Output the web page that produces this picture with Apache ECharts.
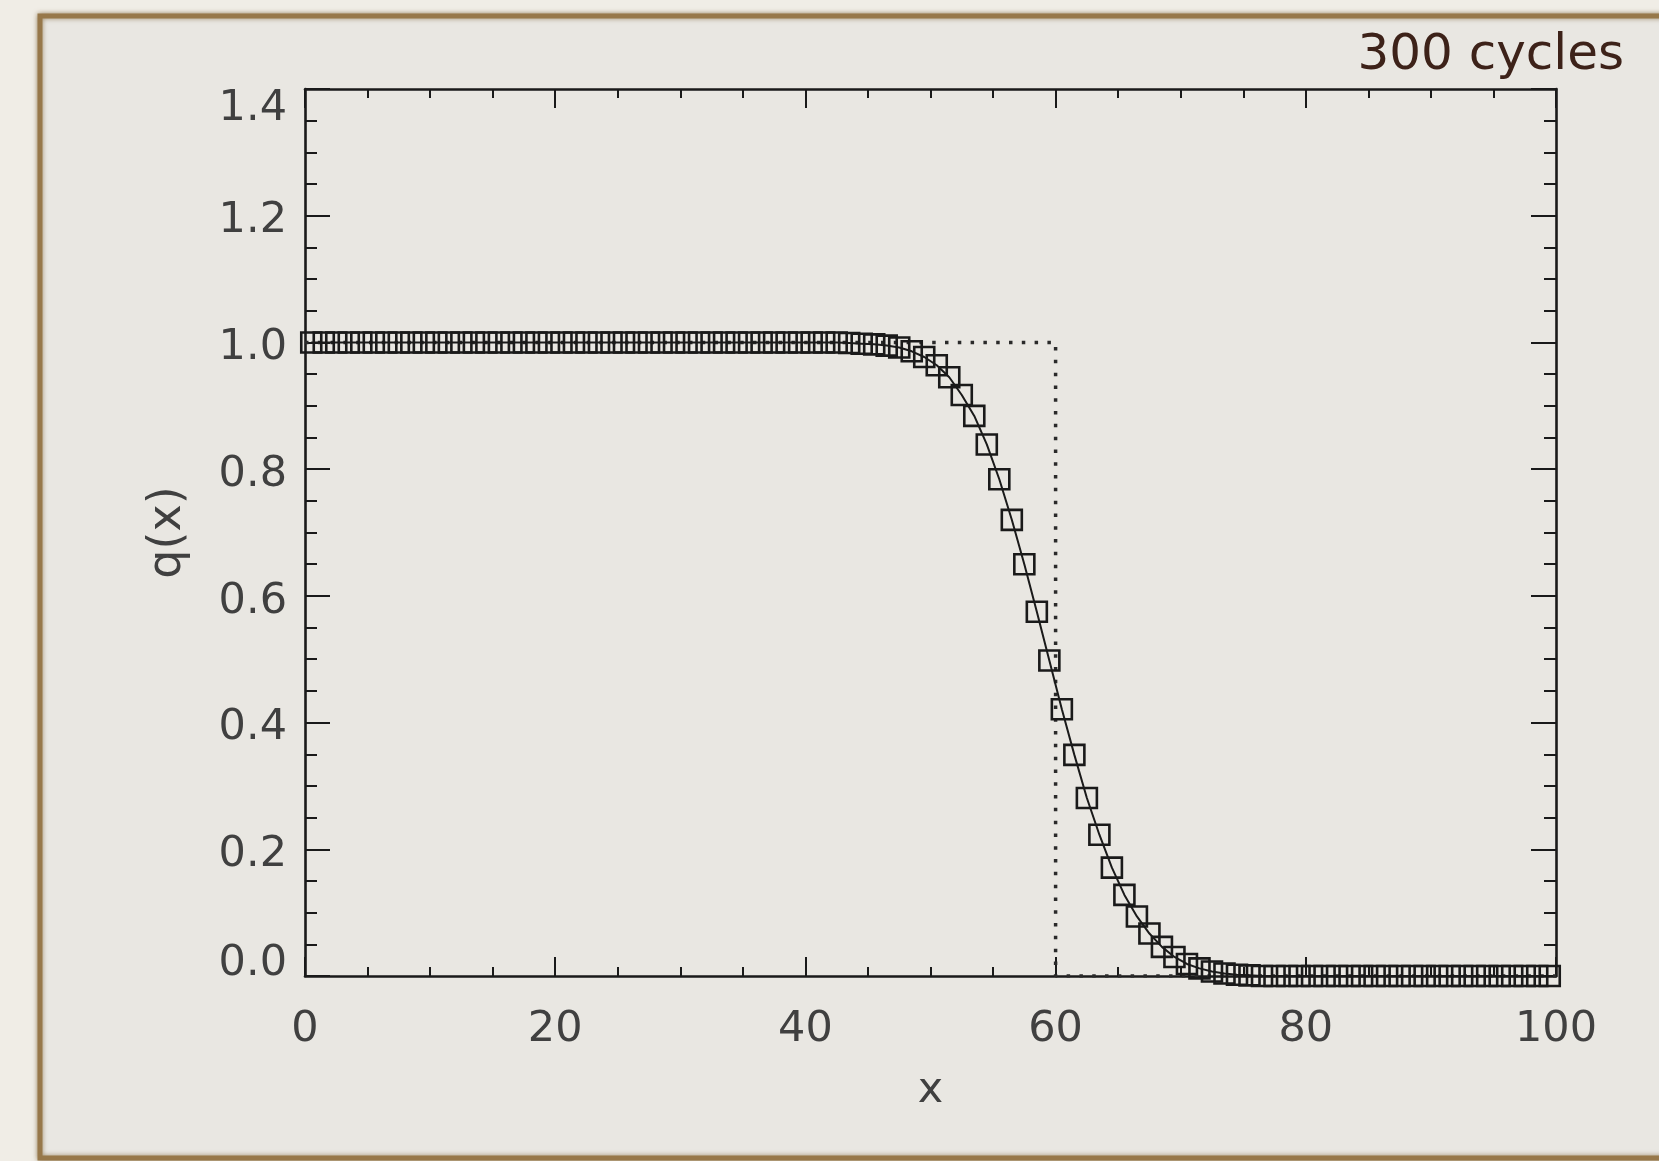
<!DOCTYPE html>
<html>
<head>
<meta charset="utf-8">
<script src="https://cdn.jsdelivr.net/npm/echarts@6/dist/echarts.min.js"></script>
<style>
  html, body { margin: 0; padding: 0; background: #f0ede6; }
  #chart { width: 1659px; height: 1161px; }
</style>
</head>
<body>
<div id="chart"></div>
<script>
// Cell centres of the 100-cell grid
const cellX = [
  0.5, 1.5, 2.5, 3.5, 4.5, 5.5, 6.5, 7.5, 8.5, 9.5,
  10.5, 11.5, 12.5, 13.5, 14.5, 15.5, 16.5, 17.5, 18.5, 19.5,
  20.5, 21.5, 22.5, 23.5, 24.5, 25.5, 26.5, 27.5, 28.5, 29.5,
  30.5, 31.5, 32.5, 33.5, 34.5, 35.5, 36.5, 37.5, 38.5, 39.5,
  40.5, 41.5, 42.5, 43.5, 44.5, 45.5, 46.5, 47.5, 48.5, 49.5,
  50.5, 51.5, 52.5, 53.5, 54.5, 55.5, 56.5, 57.5, 58.5, 59.5,
  60.5, 61.5, 62.5, 63.5, 64.5, 65.5, 66.5, 67.5, 68.5, 69.5,
  70.5, 71.5, 72.5, 73.5, 74.5, 75.5, 76.5, 77.5, 78.5, 79.5,
  80.5, 81.5, 82.5, 83.5, 84.5, 85.5, 86.5, 87.5, 88.5, 89.5,
  90.5, 91.5, 92.5, 93.5, 94.5, 95.5, 96.5, 97.5, 98.5, 99.5
];

// Numerical solution q(x) after 300 cycles
const qNumeric = [
  1, 1, 1, 1, 1, 1, 1, 1, 1, 1,
  1, 1, 1, 1, 1, 1, 1, 1, 1, 1,
  1, 1, 1, 1, 1, 1, 1, 1, 1, 1,
  1, 1, 1, 1, 1, 1, 1, 1, 1, 1,
  1, 1, 1, 0.999, 0.998, 0.997, 0.995, 0.992, 0.986, 0.977,
  0.964, 0.945, 0.917, 0.884, 0.839, 0.784, 0.720, 0.650, 0.575, 0.498,
  0.421, 0.349, 0.281, 0.223, 0.171, 0.128, 0.094, 0.067, 0.046, 0.030,
  0.019, 0.012, 0.007, 0.004, 0.002, 0.001, 0, 0, 0, 0,
  0, 0, 0, 0, 0, 0, 0, 0, 0, 0,
  0, 0, 0, 0, 0, 0, 0, 0, 0, 0
];

// Exact (step) solution
const exactX = [0, 60, 60, 100];
const exactQ = [1, 1, 0, 0];

// Axis ranges and tick steps
const xRange = [0, 100];
const xStep = 20;
const yRange = [0, 1.4];
const yStep = 0.2;

const annotation = '300 cycles';
const xName = 'x';
const yName = 'q(x)';

const ink = '#1a1a1a';
const labelColor = '#404040';
const labelFont = '"DejaVu Sans", Verdana, sans-serif';
const labelSize = 43;

const chart = echarts.init(document.getElementById('chart'), null, { renderer: 'canvas' });

// y labels: the end labels sit inside the frame, the others hang just below their tick
function yLabel(v) {
  const s = v.toFixed(1);
  if (Math.abs(v - yRange[0]) < 1e-9) return '{lo|' + s + '}';
  if (Math.abs(v - yRange[1]) < 1e-9) return '{hi|' + s + '}';
  return '{mid|' + s + '}';
}

function boxAxis(kind, position, showLabels) {
  const isX = kind === 'x';
  const ax = {
    type: 'value',
    position: position,
    min: isX ? xRange[0] : yRange[0],
    max: isX ? xRange[1] : yRange[1],
    interval: isX ? xStep : yStep,
    axisLine: { show: true, onZero: false, lineStyle: { color: ink, width: 2.6 } },
    axisTick: { show: true, inside: true, length: isX ? 19 : 25, lineStyle: { color: ink, width: 2 } },
    minorTick: { show: true, splitNumber: 4, length: isX ? 9 : 12, lineStyle: { color: ink, width: 2 } },
    splitLine: { show: false },
    axisLabel: { show: false }
  };
  if (showLabels) {
    const base = { fontSize: labelSize, fontFamily: labelFont, color: labelColor };
    ax.axisLabel = Object.assign({
      show: true,
      margin: isX ? 32 : 18,
      formatter: isX ? (v) => String(v) : yLabel
    }, base);
    if (!isX) {
      ax.axisLabel.rich = {
        lo: Object.assign({ padding: [0, 0, 24, 0] }, base),
        hi: Object.assign({ padding: [39, 0, 0, 0] }, base),
        mid: Object.assign({ padding: [11, 0, 0, 0] }, base)
      };
    }
    ax.name = isX ? xName : yName;
    ax.nameLocation = 'middle';
    ax.nameGap = isX ? 93 : 114;
    ax.nameTextStyle = { fontSize: isX ? labelSize : 46, fontFamily: labelFont, color: labelColor };
  }
  return ax;
}

const option = {
  backgroundColor: '#f0ede6',
  animation: false,
  graphic: [
    {
      type: 'rect',
      z: -10,
      silent: true,
      shape: { x: 40, y: 16, width: 1700, height: 1142 },
      style: {
        fill: '#e9e7e2',
        stroke: '#97784a',
        lineWidth: 5,
        shadowBlur: 5,
        shadowColor: 'rgba(110, 80, 30, 0.6)'
      }
    },
    {
      type: 'text',
      z: 10,
      right: 35,
      top: 31,
      style: {
        text: annotation,
        fontSize: 50,
        fontFamily: '"DejaVu Sans", Verdana, sans-serif',
        fill: '#3d2219'
      }
    }
  ],
  grid: { left: 305, right: 103, top: 89, bottom: 185, containLabel: false },
  xAxis: [boxAxis('x', 'bottom', true), boxAxis('x', 'top', false)],
  yAxis: [boxAxis('y', 'left', true), boxAxis('y', 'right', false)],
  series: [
    {
      name: 'exact',
      type: 'line',
      xAxisIndex: 0,
      yAxisIndex: 0,
      data: exactX.map((x, i) => [x, exactQ[i]]),
      showSymbol: false,
      lineStyle: { color: '#2a2a2a', width: 3.5, type: [3.5, 9.3], cap: 'butt' },
      z: 2
    },
    {
      name: 'numeric',
      type: 'line',
      xAxisIndex: 0,
      yAxisIndex: 0,
      data: cellX.map((x, i) => [x, qNumeric[i]]),
      symbol: 'rect',
      symbolSize: 20,
      showSymbol: true,
      showAllSymbol: true,
      clip: false,
      itemStyle: { color: 'rgba(0,0,0,0)', borderColor: ink, borderWidth: 2.6 },
      lineStyle: { color: ink, width: 2 },
      z: 3
    }
  ]
};

chart.setOption(option);
</script>
</body>
</html>
